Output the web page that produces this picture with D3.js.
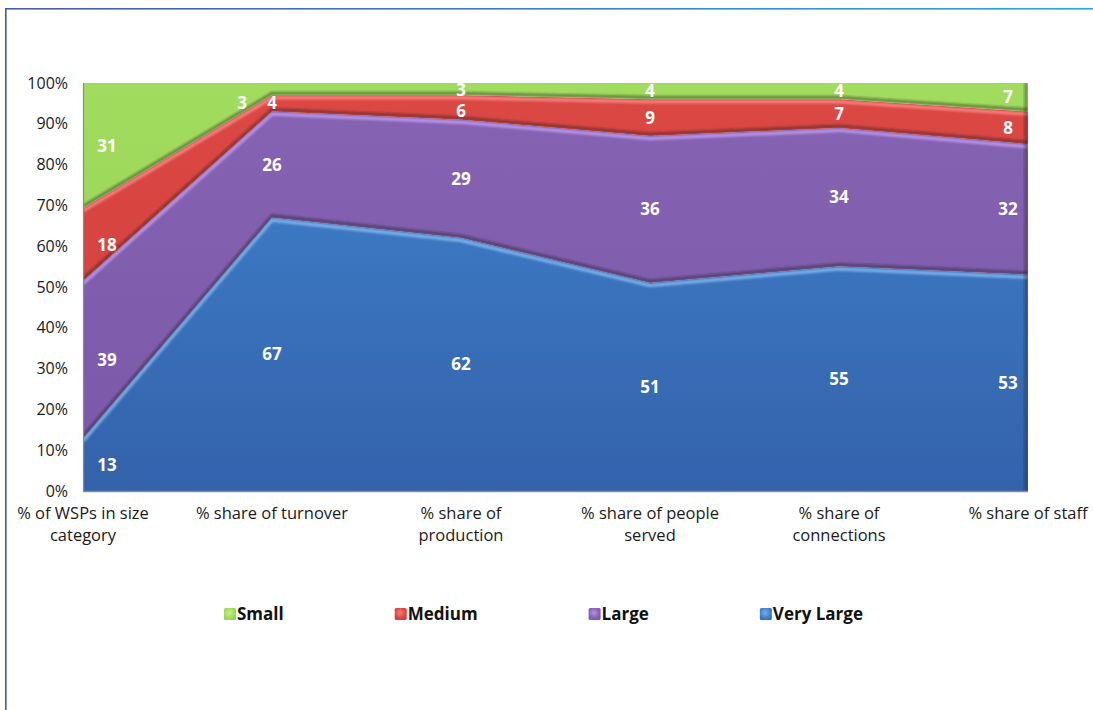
<!DOCTYPE html>
<html>
<head>
<meta charset="utf-8">
<script src="https://cdnjs.cloudflare.com/ajax/libs/d3/7.8.5/d3.min.js"></script>
<style>
  html, body { margin: 0; padding: 0; background: #fff; }
  svg { display: block; }
</style>
</head>
<body>
<svg id="chart" width="1093" height="710"></svg>
<script>
// Share of water service providers (WSPs) by size category
const categories = [
  "% of WSPs in size category",
  "% share of turnover",
  "% share of production",
  "% share of people served",
  "% share of connections",
  "% share of staff"
];
const categoryLines = [
  ["% of WSPs in size", "category"],
  ["% share of turnover"],
  ["% share of", "production"],
  ["% share of people", "served"],
  ["% share of", "connections"],
  ["% share of staff"]
];
const seriesNames = ["Very Large", "Large", "Medium", "Small"];
const veryLarge = [13, 67, 62, 51, 55, 53];
const large     = [39, 26, 29, 36, 34, 32];
const medium    = [18, 4, 6, 9, 7, 8];
const small     = [31, 3, 3, 4, 4, 7];
const yTicks = [0, 0.1, 0.2, 0.3, 0.4, 0.5, 0.6, 0.7, 0.8, 0.9, 1];
const legendOrder = ["Small", "Medium", "Large", "Very Large"];

const colors = {
  "Very Large": { top: "#4183cf", bottom: "#3362aa", edge: "#79aee8" },
  "Large":      { top: "#8663b3", bottom: "#7a58a8", edge: "#b792e6" },
  "Medium":     { top: "#dc4844", bottom: "#cf3f3c", edge: "#f57e7b" },
  "Small":      { top: "#a2dc5f", bottom: "#92cf52", edge: "#c2f18a" }
};

const valuesBy = { "Very Large": veryLarge, "Large": large, "Medium": medium, "Small": small };
const rows = categories.map((c, i) => {
  const r = { category: c };
  seriesNames.forEach(s => r[s] = valuesBy[s][i]);
  return r;
});

const stack = d3.stack().keys(seriesNames).offset(d3.stackOffsetExpand);
const layers = stack(rows);

const svg = d3.select("#chart");
const pL = 83, pR = 1028, pT = 83, pB = 491;
const textFont = "'Century Gothic', 'Open Sans', sans-serif";

const x = d3.scalePoint().domain(categories).range([pL, pR]);
const y = d3.scaleLinear().domain([0, 1]).range([pB, pT]);

const defs = svg.append("defs");

// Outer frame
const frameGrad = defs.append("linearGradient").attr("id", "frameGrad")
  .attr("x1", "0").attr("x2", "1").attr("y1", "0").attr("y2", "0");
frameGrad.append("stop").attr("offset", "0%").attr("stop-color", "#4b5aa8");
frameGrad.append("stop").attr("offset", "60%").attr("stop-color", "#3b86cf");
frameGrad.append("stop").attr("offset", "100%").attr("stop-color", "#2ba6e2");
svg.append("rect").attr("x", 6).attr("y", 8).attr("width", 1100).attr("height", 1.6)
  .attr("fill", "url(#frameGrad)");
svg.append("rect").attr("x", 5).attr("y", 8).attr("width", 1.6).attr("height", 710)
  .attr("fill", "#4b55a3");

// Gradients for fills
seriesNames.forEach((s, i) => {
  const g = defs.append("linearGradient").attr("id", "fill" + i)
    .attr("gradientUnits", "userSpaceOnUse")
    .attr("x1", 0).attr("x2", 0).attr("y1", pT).attr("y2", pB);
  g.append("stop").attr("offset", "0%").attr("stop-color", colors[s].top);
  g.append("stop").attr("offset", "100%").attr("stop-color", colors[s].bottom);
  const lg = defs.append("radialGradient").attr("id", "leg" + i)
    .attr("cx", "0.45").attr("cy", "0.4").attr("r", "0.7");
  lg.append("stop").attr("offset", "0%").attr("stop-color", colors[s].edge);
  lg.append("stop").attr("offset", "60%").attr("stop-color", colors[s].top);
  lg.append("stop").attr("offset", "100%").attr("stop-color", colors[s].bottom);
});
defs.append("filter").attr("id", "soft").attr("x", "-5%").attr("y", "-50%")
  .attr("width", "110%").attr("height", "200%")
  .append("feGaussianBlur").attr("stdDeviation", 1.2);
defs.append("filter").attr("id", "softer").attr("x", "-30%").attr("y", "-30%")
  .attr("width", "160%").attr("height", "160%")
  .append("feGaussianBlur").attr("stdDeviation", 0.6);
defs.append("clipPath").attr("id", "plotClip")
  .append("rect").attr("x", pL).attr("y", pT).attr("width", pR - pL).attr("height", pB - pT);

const area = d3.area()
  .x(d => x(d.data.category))
  .y0(d => y(d[0]))
  .y1(d => y(d[1]));
const topLine = d3.line()
  .x(d => x(d.data.category))
  .y(d => y(d[1]));

const plot = svg.append("g").attr("clip-path", "url(#plotClip)");

layers.forEach((layer, i) => {
  plot.append("path").datum(layer)
    .attr("d", area)
    .attr("fill", `url(#fill${i})`);
});

// Bevel: dark shadow just above each boundary, light rim just below it
layers.forEach((layer, i) => {
  const s = layer.key;
  const clipId = "layerClip" + i;
  defs.append("clipPath").attr("id", clipId).append("path").datum(layer).attr("d", area);
  if (i < layers.length - 1) {
    plot.append("path").datum(layer)
      .attr("d", topLine)
      .attr("transform", "translate(0,-2)")
      .attr("fill", "none")
      .attr("stroke", "rgba(30,30,30,0.45)")
      .attr("stroke-width", 3)
      .attr("filter", "url(#soft)");
  }
  plot.append("g").attr("clip-path", `url(#${clipId})`)
    .append("path").datum(layer)
    .attr("d", topLine)
    .attr("transform", "translate(0,2.5)")
    .attr("fill", "none")
    .attr("stroke", colors[s].edge)
    .attr("stroke-width", 3.5)
    .attr("filter", "url(#soft)");
});

// Right edge shading and plot frame
plot.append("rect").attr("x", pR - 4).attr("y", pT).attr("width", 4).attr("height", pB - pT)
  .attr("fill", "rgba(20,20,40,0.35)").attr("filter", "url(#soft)");
svg.append("line").attr("x1", pL + 0.5).attr("x2", pL + 0.5).attr("y1", pT).attr("y2", pB)
  .attr("stroke", "#8a8a8a").attr("stroke-width", 1.2);
svg.append("line").attr("x1", pL).attr("x2", pR).attr("y1", pB + 0.5).attr("y2", pB + 0.5)
  .attr("stroke", "#8a8a8a").attr("stroke-width", 1.5);

// Y axis
const yAxis = d3.axisLeft(y).tickValues(yTicks).tickFormat(d3.format(".0%"))
  .tickSize(0).tickPadding(15);
const yg = svg.append("g").attr("transform", `translate(${pL},0)`).call(yAxis);
yg.select(".domain").remove();
yg.selectAll("text").attr("font-family", textFont).attr("font-size", 16)
  .attr("fill", "#1a1a1a");

// X axis labels
const xg = svg.append("g");
categories.forEach((c, i) => {
  const t = xg.append("text")
    .attr("x", x(c)).attr("y", 519)
    .attr("text-anchor", "middle")
    .attr("font-family", textFont).attr("font-size", 16.5).attr("fill", "#1a1a1a");
  categoryLines[i].forEach((ln, k) => {
    t.append("tspan").attr("x", x(c)).attr("dy", k === 0 ? 0 : 22).text(ln);
  });
});

// Data labels at the middle of each band, nudged apart where bands are thin
const n = categories.length;
const labelData = [];
layers.forEach((layer, i) => {
  layer.forEach((d, j) => {
    let lx = x(d.data.category);
    if (j === 0) lx += 24;
    if (j === n - 1) lx -= 20;
    labelData.push({ i, j, x: lx, y: y((d[0] + d[1]) / 2), text: d.data[layer.key] });
  });
});
labelData.forEach(l => {
  if (l.i === 0) return;
  const below = labelData.find(p => p.j === l.j && p.i === l.i - 1);
  const gap = below.y - l.y;
  if (gap < 15) {
    l.y = below.y; l.x -= 30;
  } else if (gap < 21) {
    l.y = Math.max(pT + 7, l.y - (21 - gap) / 2);
    below.y = l.y + 21;
  }
});
svg.append("g").selectAll("text").data(labelData).join("text")
  .attr("x", d => d.x).attr("y", d => d.y).attr("dy", "0.35em")
  .attr("text-anchor", "middle")
  .attr("font-family", textFont).attr("font-weight", "bold").attr("font-size", 17)
  .attr("fill", "#ffffff")
  .text(d => d.text);

// Legend
const legend = svg.append("g");
let lxPos = 224;
legendOrder.forEach(name => {
  const idx = seriesNames.indexOf(name);
  legend.append("rect").attr("x", lxPos).attr("y", 608).attr("width", 12).attr("height", 12)
    .attr("rx", 1.5).attr("fill", `url(#leg${idx})`).attr("filter", "url(#softer)");
  const t = legend.append("text").attr("x", lxPos + 13).attr("y", 614).attr("dy", "0.35em")
    .attr("font-family", textFont).attr("font-weight", "bold").attr("font-size", 17)
    .attr("fill", "#111").text(name);
  lxPos += 13 + t.node().getComputedTextLength() + 111;
});
</script>
</body>
</html>
